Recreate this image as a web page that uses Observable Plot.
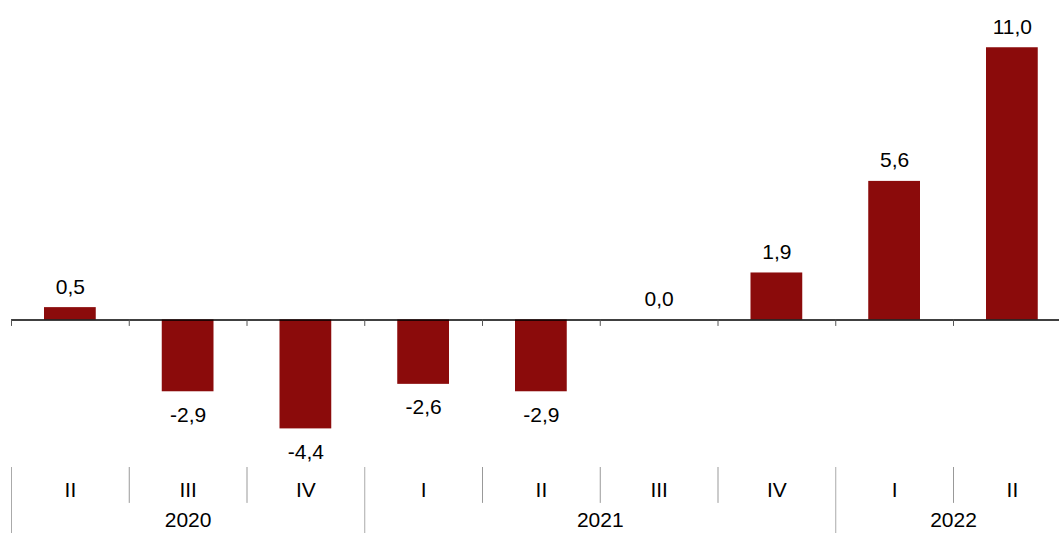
<!DOCTYPE html>
<html><head><meta charset="utf-8">
<script src="https://cdn.jsdelivr.net/npm/d3@7"></script>
<script src="https://cdn.jsdelivr.net/npm/@observablehq/plot@0.6"></script>
<style>body{margin:0;background:#fff}</style>
</head><body><div id="chart"></div>
<script>
// ---- data ----
const quarters = ["II","III","IV","I","II","III","IV","I","II"];
const years = ["2020","2020","2020","2021","2021","2021","2021","2022","2022"];
const values = [0.5,-2.9,-4.4,-2.6,-2.9,0.0,1.9,5.6,11.0];
const yearLabels = ["2020","2021","2022"];

// ---- derived tables ----
const rows = values.map((v,i)=>({i, q: quarters[i], year: years[i], v,
  label: v.toFixed(1).replace(".", ",")}));
const yearRows = yearLabels.map(y => {
  const idx = years.map((yy,i)=>yy===y?i:-1).filter(i=>i>=0);
  return {y, start: d3.min(idx), end: d3.max(idx)+1};
});
const yearStarts = yearRows.map(d=>d.start);
const bounds = d3.range(0, quarters.length+1);
const quarterSeps = bounds.filter(b => b>0 && b<quarters.length && !yearStarts.includes(b));

// ---- layout (in y-units below the axis) ----
const sepTop = -5.96, quarterSepBottom = -7.41, yearSepBottom = -8.7;
const quarterLabelY = -6.89, yearLabelY = -8.1;

const chart = Plot.plot({
  width: 1059, height: 533, margin: 0,
  x: {type: "linear", domain: [0, quarters.length], range: [11, 1070.75], axis: null},
  y: {domain: [-5, 12], range: [443.25, 22.5], axis: null},
  style: {fontFamily: "'Liberation Sans', Arial, sans-serif", fontSize: "21px", color: "#000", background: "#fff"},
  marks: [
    Plot.rect(rows, {x1: "i", x2: d => d.i + 1, y1: 0, y2: "v", fill: "#8b0b0b", insetLeft: 33, insetRight: 33}),
    Plot.ruleY([0], {x1: 0, x2: quarters.length, stroke: "#000", strokeWidth: 1.3}),
    Plot.ruleX(bounds, {x: d => d, y1: 0, y2: -0.26, stroke: "#555", strokeWidth: 1}),
    Plot.text(rows.filter(d => d.v >= 0), {x: d => d.i + 0.5, y: "v", text: "label", lineAnchor: "bottom", dy: -14, fill: "#000"}),
    Plot.text(rows.filter(d => d.v < 0), {x: d => d.i + 0.5, y: "v", text: "label", lineAnchor: "top", dy: 15, fill: "#000"}),
    Plot.ruleX(quarterSeps, {x: d => d, y1: sepTop, y2: quarterSepBottom, stroke: "#999", strokeWidth: 1}),
    Plot.ruleX(yearStarts, {x: d => d, y1: sepTop, y2: yearSepBottom, stroke: "#aaa", strokeWidth: 1}),
    Plot.text(rows, {x: d => d.i + 0.5, y: quarterLabelY, text: "q", fill: "#000"}),
    Plot.text(yearRows, {x: d => (d.start + d.end) / 2, y: yearLabelY, text: "y", fill: "#000"})
  ]
});
document.getElementById("chart").appendChild(chart);
</script>
</body></html>
